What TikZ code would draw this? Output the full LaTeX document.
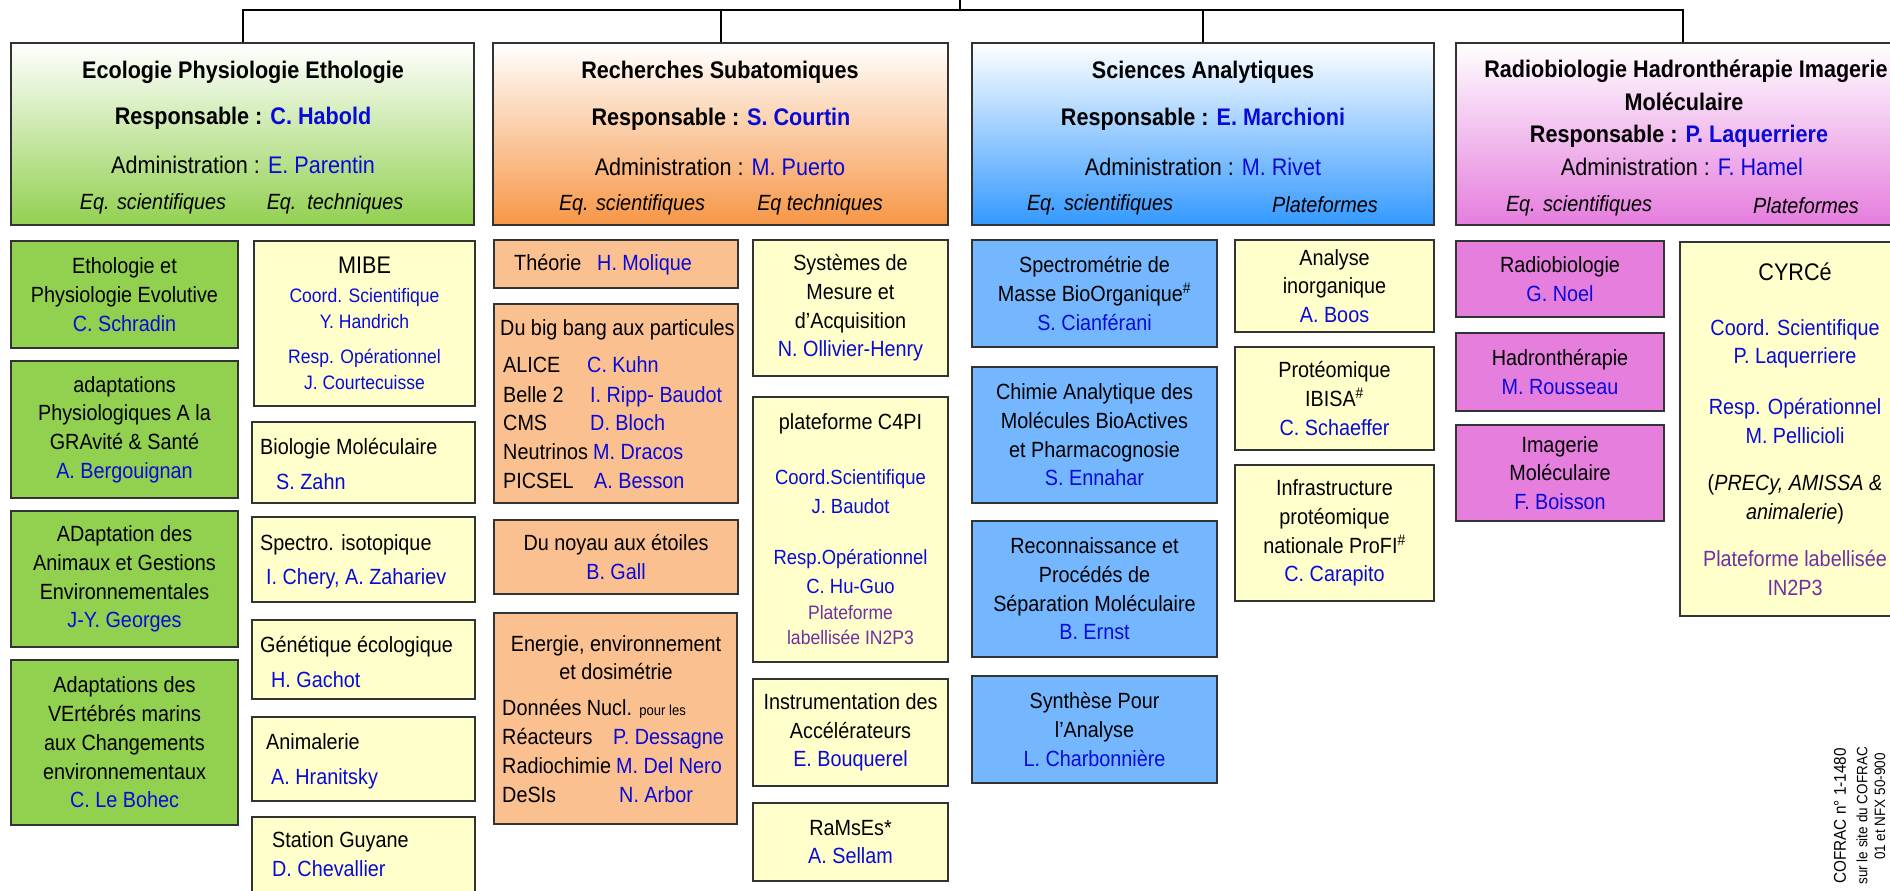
\documentclass[tikz,border=0pt]{standalone}
\usepackage{fontspec}
\setmainfont{Liberation Sans}[FakeStretch=0.9]
\usetikzlibrary{fit}
\definecolor{vertc}{RGB}{146,208,80}
\definecolor{orangeh}{RGB}{247,150,70}
\definecolor{orangec}{RGB}{250,192,144}
\definecolor{bleuh}{RGB}{51,153,255}
\definecolor{bleuc}{RGB}{117,183,255}
\definecolor{roseh}{RGB}{229,125,222}
\definecolor{rosec}{RGB}{230,126,222}
\definecolor{jaunec}{RGB}{255,255,204}
\definecolor{nomc}{RGB}{10,10,215}
\definecolor{violc}{RGB}{112,48,160}
\newcommand{\nm}[1]{\textcolor{nomc}{#1}}
\newcommand{\pf}[1]{\textcolor{violc}{#1}}
% boite : [police]{style}{nom}{coins}{texte}
\newcommand{\boite}[5][]{%
	\node[#2, fit={#4}] (#3) {};
	\node[align=center, #1] (#3-t) at (#3.center) {#5};}
\begin{document}
\begin{tikzpicture}[x=1pt, y=-1pt,
	every node/.style={inner sep=0pt, font=\fontsize{22}{28.7}\selectfont},
	cadre/.style={draw=black!80, line width=2pt},
	ssvert/.style={cadre, fill=vertc},
	ssorange/.style={cadre, fill=orangec},
	ssbleu/.style={cadre, fill=bleuc},
	ssrose/.style={cadre, fill=rosec},
	ssjaune/.style={cadre, fill=jaunec},
	entete/.style={cadre, top color=white, bottom color=#1},
	titre/.style={font=\fontsize{24}{30}\selectfont\bfseries},
	admin/.style={font=\fontsize{24}{30}\selectfont},
	eq/.style={font=\fontsize{22}{28}\selectfont\itshape},
	ligne/.style={anchor=west, text height=16pt, text depth=5pt},
	lien/.style={line width=2pt, draw=black}]
	\useasboundingbox (0,0) rectangle (1890,891);
	\clip (0,0) rectangle (1890,891);
	% en-tetes des departements
	\node[entete=vertc, fit={(11,43) (474,225)}] (epe) {};
	\node[titre] (epe-t) at (243,72) {Ecologie Physiologie Ethologie};
	\node[titre] (epe-r) at (243,118) {Responsable : \nm{C. Habold}};
	\node[admin] (epe-a) at (243,165) {Administration : \nm{E. Parentin}};
	\node[eq] (epe-s) at (153,204) {Eq. scientifiques};
	\node[eq] (epe-e) at (335,204) {Eq.\ \ techniques};
	\node[entete=orangeh, fit={(493,43) (948,225)}] (drs) {};
	\node[titre] (drs-t) at (720,72) {Recherches Subatomiques};
	\node[titre] (drs-r) at (721,119) {Responsable : \nm{S. Courtin}};
	\node[admin] (drs-a) at (720,167) {Administration : \nm{M. Puerto}};
	\node[eq] (drs-s) at (632,205) {Eq. scientifiques};
	\node[eq] (drs-e) at (820,205) {Eq techniques};
	\node[entete=bleuh, fit={(972,43) (1434,225)}] (dsa) {};
	\node[titre] (dsa-t) at (1203,72) {Sciences Analytiques};
	\node[titre] (dsa-r) at (1203,119) {Responsable : \nm{E. Marchioni}};
	\node[admin] (dsa-a) at (1203,167) {Administration : \nm{M. Rivet}};
	\node[eq] (dsa-s) at (1100,205) {Eq. scientifiques};
	\node[eq] (dsa-e) at (1325,205) {Plateformes};
	\node[entete=roseh, fit={(1456,43) (1910,225)}] (dhi) {};
	\node[titre] (dhi-t) at (1686,71) {Radiobiologie Hadronthérapie Imagerie};
	\node[titre] (dhi-u) at (1684,102) {Moléculaire};
	\node[titre] (dhi-r) at (1679,136) {Responsable : \nm{P. Laquerriere}};
	\node[admin] (dhi-a) at (1682,167) {Administration : \nm{F. Hamel}};
	\node[eq] (dhi-s) at (1579,206) {Eq. scientifiques};
	\node[eq] (dhi-e) at (1806,206) {Plateformes};
	% liaisons
	\coordinate (tronc) at (960,0);
	\coordinate (bus) at (960,10);
	\draw[lien] (tronc) -- (bus);
	\foreach \h in {epe,drs,dsa,dhi}
		\draw[lien] (bus) -| (\h.north);
	% Ecologie Physiologie Ethologie
	\boite{ssvert}{epe1}{(11,241) (238,348)}{Ethologie et\\Physiologie Evolutive\\\nm{C. Schradin}}
	\boite{ssvert}{epe2}{(11,361) (238,498)}{adaptations\\Physiologiques A la\\GRAvité \& Santé\\\nm{A. Bergouignan}}
	\boite{ssvert}{epe3}{(11,511) (238,647)}{ADaptation des\\Animaux et Gestions\\Environnementales\\\nm{J-Y. Georges}}
	\boite{ssvert}{epe4}{(11,660) (238,825)}{Adaptations des\\VErtébrés marins\\aux Changements\\environnementaux\\\nm{C. Le Bohec}}
	\boite[font=\fontsize{19.5}{26}\selectfont]{ssjaune}{mibe}{(254,241) (475,406)}{{\fontsize{24}{26}\selectfont MIBE}\\[3pt]\nm{Coord. Scientifique}\\\nm{Y. Handrich}\\[9pt]\nm{Resp. Opérationnel}\\\nm{J. Courtecuisse}}
	\node[ssjaune, fit={(252,422) (475,503)}] (bio) {};
	\node[ligne] (bio-a) at (260,449) {Biologie Moléculaire};
	\node[ligne] (bio-b) at (276,484) {\nm{S. Zahn}};
	\node[ssjaune, fit={(252,517) (475,602)}] (iso) {};
	\node[ligne] (iso-a) at (260,545) {Spectro. isotopique};
	\node[ligne] (iso-b) at (266,579) {\nm{I. Chery, A. Zahariev}};
	\node[ssjaune, fit={(252,620) (475,699)}] (gen) {};
	\node[ligne] (gen-a) at (260,647) {Génétique écologique};
	\node[ligne] (gen-b) at (271,682) {\nm{H. Gachot}};
	\node[ssjaune, fit={(252,717) (475,801)}] (ani) {};
	\node[ligne] (ani-a) at (266,744) {Animalerie};
	\node[ligne] (ani-b) at (271,779) {\nm{A. Hranitsky}};
	\node[ssjaune, fit={(252,817) (475,905)}] (guy) {};
	\node[ligne] (guy-a) at (272,842) {Station Guyane};
	\node[ligne] (guy-b) at (272,871) {\nm{D. Chevallier}};
	% Recherches Subatomiques
	\node[ssorange, fit={(494,240) (738,288)}] (theo) {};
	\node[ligne] (theo-a) at (514,265) {Théorie};
	\node[ligne] (theo-b) at (597,265) {\nm{H. Molique}};
	\node[ssorange, fit={(494,304) (738,503)}] (bbp) {};
	\node[ligne] (bbp-a) at (500,330) {Du big bang aux particules};
	\foreach \lab/\nom/\xn/\yy [count=\i] in {ALICE/C. Kuhn/587/367, Belle 2/I. Ripp- Baudot/590/397, CMS/D. Bloch/590/425, Neutrinos/M. Dracos/593/454, PICSEL/A. Besson/594/483} {
		\node[ligne] (bbl\i) at (503,\yy) {\lab};
		\node[ligne] (bbn\i) at (\xn,\yy) {\nm{\nom}};
	}
	\boite{ssorange}{nae}{(494,520) (738,594)}{Du noyau aux étoiles\\\nm{B. Gall}}
	\node[ssorange, fit={(494,613) (737,824)}] (ene) {};
	\node[align=center] (ene-a) at (616,657.5) {Energie, environnement\\et dosimétrie};
	\node[ligne] (enl1) at (502,710) {Données Nucl. {\fontsize{14.5}{16}\selectfont pour les}};
	\foreach \lab/\nom/\xn/\yy [count=\i from 2] in {Réacteurs/P. Dessagne/613/739, Radiochimie/M. Del Nero/616/768, DeSIs/N. Arbor/619/797} {
		\node[ligne] (enl\i) at (502,\yy) {\lab};
		\node[ligne] (enn\i) at (\xn,\yy) {\nm{\nom}};
	}
	\boite{ssjaune}{sma}{(753,240) (948,376)}{Systèmes de\\Mesure et\\d’Acquisition\\\nm{N. Ollivier-Henry}}
	\boite[font=\fontsize{20.5}{28}\selectfont]{ssjaune}{c4pi}{(753,397) (948,662)}{{\fontsize{22}{28}\selectfont plateforme C4PI}\\[27pt]\nm{Coord.Scientifique}\\[1pt]\nm{J. Baudot}\\[23pt]\nm{Resp.Opérationnel}\\[1pt]\nm{C. Hu-Guo}\\[-2pt]{\fontsize{19.5}{26}\selectfont\pf{Plateforme}}\\[-3pt]{\fontsize{19.5}{26}\selectfont\pf{labellisée IN2P3}}}
	\boite{ssjaune}{acc}{(753,679) (948,786)}{Instrumentation des\\Accélérateurs\\\nm{E. Bouquerel}}
	\boite{ssjaune}{rms}{(753,803) (948,881)}{RaMsEs*\\\nm{A. Sellam}}
	% Sciences Analytiques
	\boite{ssbleu}{smb}{(972,240) (1217,347)}{Spectrométrie de\\Masse BioOrganique\textsuperscript{\#}\\\nm{S. Cianférani}}
	\boite{ssbleu}{cam}{(972,367) (1217,503)}{Chimie Analytique des\\Molécules BioActives\\et Pharmacognosie\\\nm{S. Ennahar}}
	\boite{ssbleu}{rps}{(972,521) (1217,657)}{Reconnaissance et\\Procédés de\\Séparation Moléculaire\\\nm{B. Ernst}}
	\boite{ssbleu}{spa}{(972,676) (1217,783)}{Synthèse Pour\\l'Analyse\\\nm{L. Charbonnière}}
	\boite{ssjaune}{ain}{(1235,240) (1434,332)}{Analyse\\inorganique\\\nm{A. Boos}}
	\boite{ssjaune}{ibi}{(1235,347) (1434,450)}{Protéomique\\IBISA\textsuperscript{\#}\\\nm{C. Schaeffer}}
	\boite{ssjaune}{pro}{(1235,465) (1434,601)}{Infrastructure\\protéomique\\nationale ProFI\textsuperscript{\#}\\\nm{C. Carapito}}
	% Radiobiologie Hadrontherapie Imagerie Moleculaire
	\boite{ssrose}{rad}{(1456,241) (1664,317)}{Radiobiologie\\\nm{G. Noel}}
	\boite{ssrose}{had}{(1456,333) (1664,411)}{Hadronthérapie\\\nm{M. Rousseau}}
	\boite{ssrose}{img}{(1456,425) (1664,521)}{Imagerie\\Moléculaire\\\nm{F. Boisson}}
	\boite{ssjaune}{cyr}{(1680,242) (1910,616)}{{\fontsize{24}{28}\selectfont CYRCé}\\[26pt]\nm{Coord. Scientifique}\\\nm{P. Laquerriere}\\[22pt]\nm{Resp. Opérationnel}\\\nm{M. Pellicioli}\\[19pt](\textit{PRECy, AMISSA \&}\\\textit{animalerie})\\[18pt]\pf{Plateforme labellisée}\\\pf{IN2P3}}
	% accreditation
	\node[rotate=90, anchor=east, font=\fontsize{17}{20}\selectfont] (cof1) at (1840,748) {COFRAC n° 1-1480};
	\node[rotate=90, anchor=east, font=\fontsize{15}{18}\selectfont] (cof2) at (1862,747) {sur le site du COFRAC};
	\node[rotate=90, anchor=east, font=\fontsize{15}{18}\selectfont] (cof3) at (1880,753) {01 et NFX 50-900};
\end{tikzpicture}
\end{document}
